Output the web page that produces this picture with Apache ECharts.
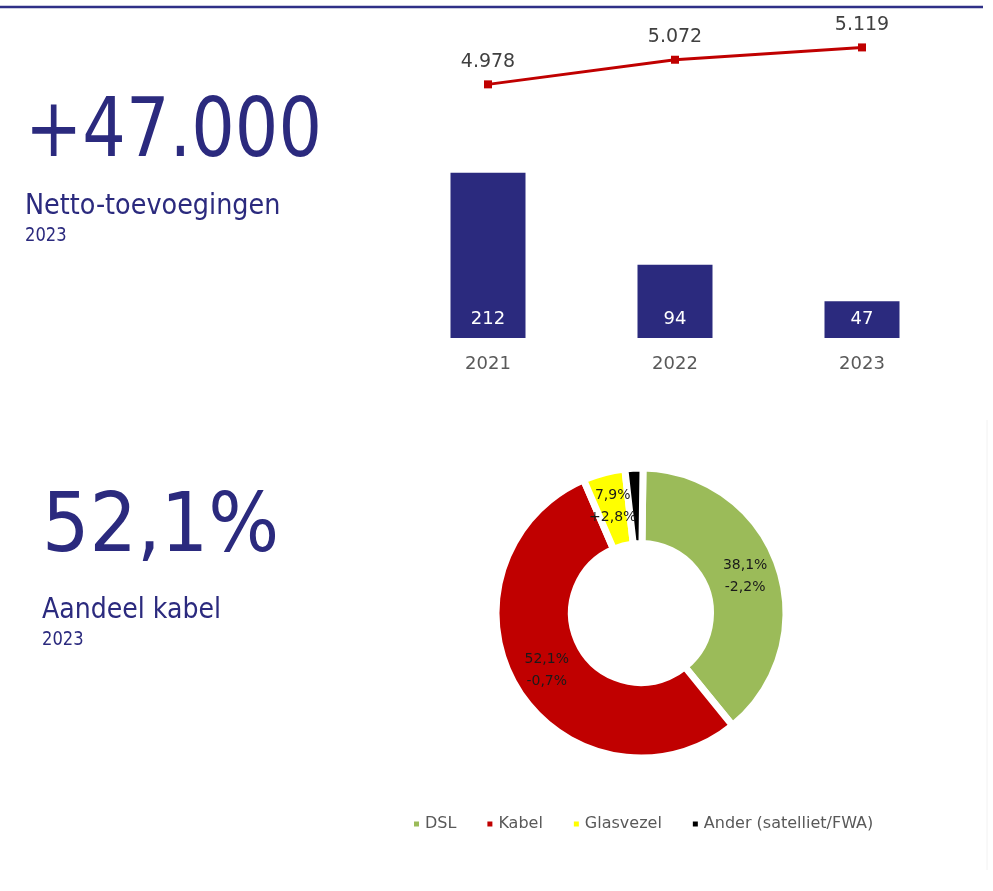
<!DOCTYPE html>
<html>
<head>
<meta charset="utf-8">
<script src="https://cdn.jsdelivr.net/npm/echarts@6/dist/echarts.min.js"></script>
<style>
  html, body { margin: 0; padding: 0; background: #fff; }
  #main { width: 993px; height: 891px; }
</style>
</head>
<body>
<div id="main"></div>
<script>
'use strict'
// data
var years = ['2021', '2022', '2023'];
var subscribers = [4978, 5072, 5119];      // thousands, line on top
var netAdditions = [212, 94, 47];          // thousands, bars
var shareNames = ['DSL', 'Kabel', 'Glasvezel', 'Ander (satelliet/FWA)'];
// slice sizes as drawn in the picture (the printed labels differ a bit)
var sliceSizes = [38.9, 54.4, 4.7, 2.0];
var shareLabels = ['38,1%', '52,1%', '7,9%', ''];
var shareChanges = ['-2,2%', '-0,7%', '+2,8%', ''];
var shareColors = ['#9bbb59', '#c00000', '#ffff00', '#000000'];

var navy = '#2b2a7e';
var chart = echarts.init(document.getElementById('main'));

function dots(v) {
    return String(v).replace(/\B(?=(\d{3})+(?!\d))/g, '.');
}

var pieData = shareNames.map(function (n, i) {
    return { name: n, value: sliceSizes[i], itemStyle: { color: shareColors[i] } };
});

function bigText(txt, x, y, size, sx) {
    return {
        type: 'text',
        x: x,
        y: y,
        scaleX: sx,
        style: {
            text: txt,
            font: 'normal ' + size + 'px "DejaVu Sans"',
            fill: navy,
            verticalAlign: 'middle'
        }
    };
}

var option = {
    animation: false,
    graphic: [
        {
            type: 'line',
            shape: { x1: 0, y1: 7, x2: 983, y2: 7 },
            style: { stroke: '#2f3087', lineWidth: 2.5 }
        },
        {
            type: 'line',
            shape: { x1: 987, y1: 420, x2: 987, y2: 870 },
            style: { stroke: '#f2f2f2', lineWidth: 1 }
        },
        bigText('+47.000', 25, 135, 82, 0.835),
        bigText('Netto-toevoegingen', 25, 206, 29, 0.88),
        bigText('2023', 25, 236, 19, 0.86),
        bigText('52,1%', 42, 530, 82, 0.91),
        bigText('Aandeel kabel', 42, 610, 29, 0.87),
        bigText('2023', 42, 640, 19, 0.86)
    ],
    grid: [
        { left: 394.5, width: 561, top: 0, height: 131 },
        { left: 394.5, width: 561, top: 143, height: 195 }
    ],
    xAxis: [
        { gridIndex: 0, type: 'category', data: years, show: false },
        {
            gridIndex: 1,
            type: 'category',
            data: years,
            axisLine: { show: false },
            axisTick: { show: false },
            axisLabel: {
                color: '#595959',
                fontSize: 18,
                fontFamily: 'DejaVu Sans',
                margin: 17
            }
        }
    ],
    yAxis: [
        { gridIndex: 0, type: 'value', min: 4800, max: 5300, show: false },
        { gridIndex: 1, type: 'value', min: 0, max: 250, show: false }
    ],
    legend: {
        left: 407,
        top: 811,
        icon: 'rect',
        itemWidth: 7,
        itemHeight: 7,
        itemGap: 29,
        textStyle: { color: '#595959', fontSize: 16, fontFamily: 'DejaVu Sans' },
        data: shareNames
    },
    series: [
        {
            name: 'Aantal',
            type: 'line',
            xAxisIndex: 0,
            yAxisIndex: 0,
            data: subscribers,
            symbol: 'rect',
            symbolSize: 8,
            itemStyle: { color: '#c00000' },
            lineStyle: { color: '#c00000', width: 3 },
            label: {
                show: true,
                position: 'top',
                distance: 9,
                color: '#404040',
                fontSize: 19,
                fontFamily: 'DejaVu Sans',
                formatter: function (p) { return dots(p.value); }
            }
        },
        {
            name: 'Netto',
            type: 'bar',
            xAxisIndex: 1,
            yAxisIndex: 1,
            data: netAdditions,
            barWidth: 75,
            itemStyle: { color: navy },
            label: {
                show: true,
                position: 'insideBottom',
                distance: 10,
                color: '#ffffff',
                fontSize: 18,
                fontFamily: 'DejaVu Sans'
            }
        },
        {
            name: 'Aandeel',
            type: 'pie',
            center: [641, 613],
            radius: [69.5, 145],
            startAngle: 89.2,
            clockwise: true,
            data: pieData,
            itemStyle: { borderColor: '#ffffff', borderWidth: 7 },
            label: {
                show: true,
                position: 'inside',
                color: '#1a1a1a',
                fontSize: 14,
                lineHeight: 22,
                fontFamily: 'DejaVu Sans',
                formatter: function (p) {
                    var i = p.dataIndex;
                    if (!shareLabels[i]) return '';
                    return shareLabels[i] + '\n' + shareChanges[i];
                }
            },
            labelLine: { show: false }
        }
    ]
};

chart.setOption(option);
</script>
</body>
</html>
